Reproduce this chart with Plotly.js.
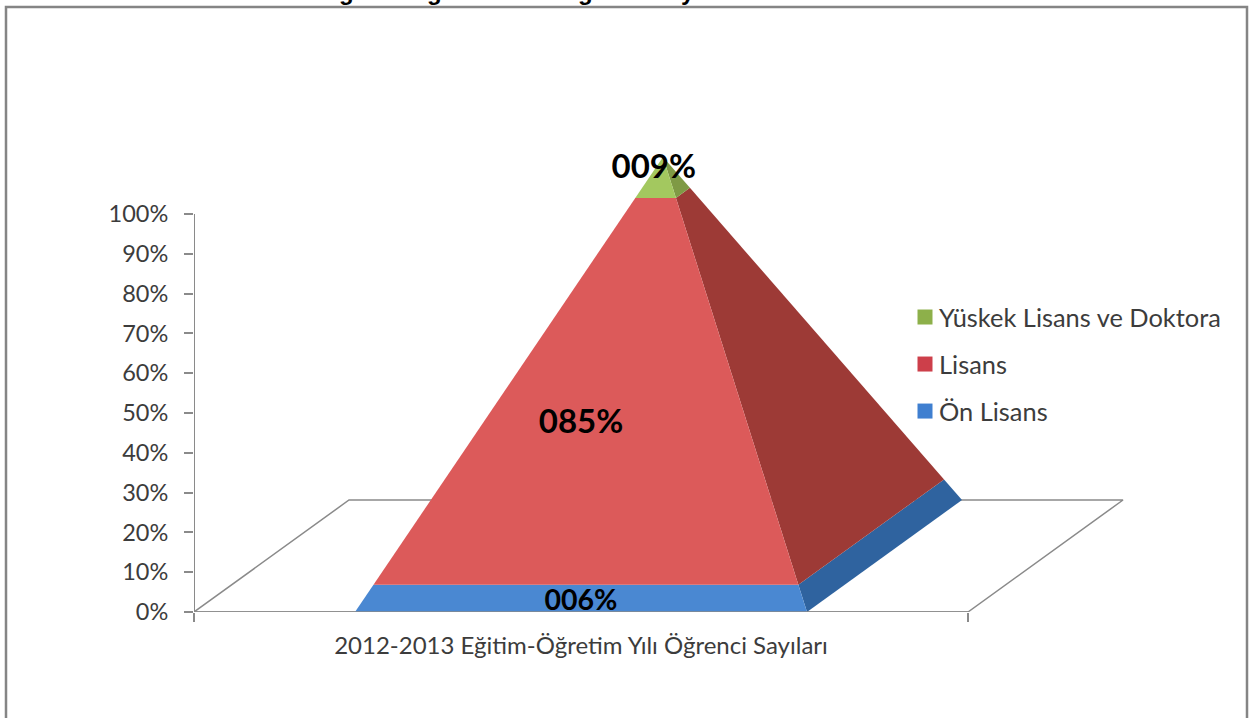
<!DOCTYPE html>
<html><head><meta charset="utf-8">
<script src="https://cdn.plot.ly/plotly-3.0.1.min.js"></script>
<style>html,body{margin:0;padding:0;background:#fff;overflow:hidden}</style>
</head><body><div id="chart" style="width:1250px;height:718px"></div>
<script>
const categories = ['Ön Lisans', 'Lisans', 'Yüskek Lisans ve Doktora'];
const values = [6, 85, 9];
const valueLabels = ['006%', '085%', '009%'];
const yTicks = [0,10,20,30,40,50,60,70,80,90,100];
const yTickText = ['0%','10%','20%','30%','40%','50%','60%','70%','80%','90%','100%'];
const axisLabel = '2012-2013 Eğitim-Öğretim Yılı Öğrenci Sayıları';
const clippedTitleGlyphs = ['g','g','g','y'];

// page geometry
const W = 1250, H = 718;
const px = { x0:194, x1:968, xMax:1130, y0:612, y100:214, yMax:145 };
const xPerPx = 1/(px.x1-px.x0), yPerPx = 100/(px.y0-px.y100);
const pageX = p => p/W, pageY = p => 1-p/H;

// pyramid geometry in axis units
const depth = {x:155*xPerPx, y:112*yPerPx};
const base = {left:161*xPerPx, right:613*xPerPx};
const apex = {x:469*xPerPx, y:455*yPerPx};
const frontColors = ['#4a88d2','#dc5a5a','#a3c85f'];
const sideColors  = ['#2f639f','#9d3a36','#7f9a45'];
const swatchColors= ['#3f7fd0','#cd3f4a','#8db04a'];

const lerp = (a,b,t)=>a+(b-a)*t;
const FL = t=>[lerp(base.left,apex.x,t), lerp(0,apex.y,t)];
const FR = t=>[lerp(base.right,apex.x,t), lerp(0,apex.y,t)];
const BR = t=>[lerp(base.right+depth.x,apex.x,t), lerp(depth.y,apex.y,t)];
const poly = (pts,color)=>({type:'scatter',mode:'lines',xaxis:'x2',x:pts.map(p=>p[0]).concat(pts[0][0]),
  y:pts.map(p=>p[1]).concat(pts[0][1]),fill:'toself',fillcolor:color,line:{width:0,color:color},
  showlegend:false,hoverinfo:'skip'});

const gridLine = '#8a8a8a';
const traces = [];
// floor + y axis line
traces.push({type:'scatter',mode:'lines',xaxis:'x2',x:[0,depth.x,1+depth.x,1,0],y:[0,depth.y,depth.y,0,0],
  line:{color:gridLine,width:1.5},showlegend:false,hoverinfo:'skip'});
traces.push({type:'scatter',mode:'lines',xaxis:'x2',x:[0,0],y:[0,100],line:{color:gridLine,width:2},showlegend:false,hoverinfo:'skip'});
// pyramid tiers
const total = values.reduce((a,b)=>a+b,0);
let cum = 0;
values.forEach((v,i)=>{
  const t0=cum/total, t1=(cum+v)/total; cum+=v;
  traces.push(poly([FR(t0),BR(t0),BR(t1),FR(t1)],sideColors[i]));
  traces.push(poly([FL(t0),FR(t0),FR(t1),FL(t1)],frontColors[i]));
});
// front baseline over the pyramid
traces.push({type:'scatter',mode:'lines',xaxis:'x2',x:[0,1],y:[0,0],line:{color:gridLine,width:1.5},showlegend:false,hoverinfo:'skip'});
// value labels
const labelX = [0.5,0.5,0.594], labelY=[2.2,47,111.2], labelSize=[28.5,33,33];
valueLabels.forEach((t,i)=>traces.push({type:'scatter',mode:'text',xaxis:'x2',x:[labelX[i]],y:[labelY[i]],text:[t],
  textposition:'middle center',textfont:{family:'Lato, sans-serif',size:labelSize[i],color:'#000',weight:700},
  showlegend:false,hoverinfo:'skip',cliponaxis:false}));
// legend entries: top tier first, as in the reference
categories.map((c,i)=>i).reverse().forEach(i=>traces.push({type:'scatter',mode:'markers',x:[null],y:[null],name:categories[i],legendgroup:categories[i],
  marker:{symbol:'square',size:15,color:swatchColors[i]}}));

const frameLine = {type:'rect',xref:'paper',yref:'paper',x0:pageX(6),x1:pageX(1247),y0:-0.1,y1:pageY(7),
  line:{color:'#858585',width:2.5},fillcolor:'rgba(0,0,0,0)',layer:'below'};
const titleX=[346,435,585,688];
const layout = {
  width:W,height:H,margin:{l:0,r:0,t:0,b:0},paper_bgcolor:'#fff',plot_bgcolor:'rgba(0,0,0,0)',
  hovermode:false,showlegend:true,
  font:{family:'Lato, sans-serif',color:'#3c3c3c',size:22},
  xaxis:{domain:[pageX(px.x0),pageX(px.xMax)],range:[0,(px.xMax-px.x0)*xPerPx],tickmode:'array',tickvals:[0.5],ticktext:[axisLabel],
    ticks:'',showgrid:false,zeroline:false,showline:false,ticklabelstandoff:17,tickfont:{size:24,color:'#3c3c3c'},anchor:'y',automargin:false},
  xaxis2:{overlaying:'x',domain:[pageX(px.x0),pageX(px.xMax)],range:[0,(px.xMax-px.x0)*xPerPx],tickmode:'array',tickvals:[0,1],
    ticks:'outside',ticklen:9,tickwidth:2,tickcolor:gridLine,showticklabels:false,showgrid:false,zeroline:false,showline:false,anchor:'y',side:'bottom'},
  yaxis:{domain:[pageY(px.y0),pageY(px.yMax)],range:[0,(px.y0-px.yMax)*yPerPx],tickmode:'array',tickvals:yTicks,ticktext:yTickText,
    ticks:'outside',ticklen:9,tickwidth:2,tickcolor:gridLine,showgrid:false,zeroline:false,showline:false,ticklabelstandoff:11,
    tickfont:{size:23.5,color:'#3c3c3c'},automargin:false,anchor:'x'},
  legend:{x:pageX(899),y:pageY(294),xanchor:'left',yanchor:'top',traceorder:'grouped',tracegroupgap:11,
    font:{family:'Lato, sans-serif',size:25.4,color:'#3c3c3c'},bgcolor:'rgba(0,0,0,0)',itemclick:false,itemdoubleclick:false},
  shapes:[frameLine],
  annotations:clippedTitleGlyphs.map((g,i)=>({text:'<b>'+g+'</b>',xref:'paper',yref:'paper',x:pageX(titleX[i]),y:1,yanchor:'bottom',xanchor:'center',
    yshift:-7,showarrow:false,font:{family:'Liberation Sans, sans-serif',size:24,color:'#000'}}))
};
Plotly.newPlot('chart',traces,layout,{displayModeBar:false,responsive:false}).then(()=>{
  // move the legend swatches next to their labels
  document.querySelectorAll('.legend .legendpoints').forEach(n=>n.setAttribute('transform','translate(6,0)'));
});
</script></body></html>
